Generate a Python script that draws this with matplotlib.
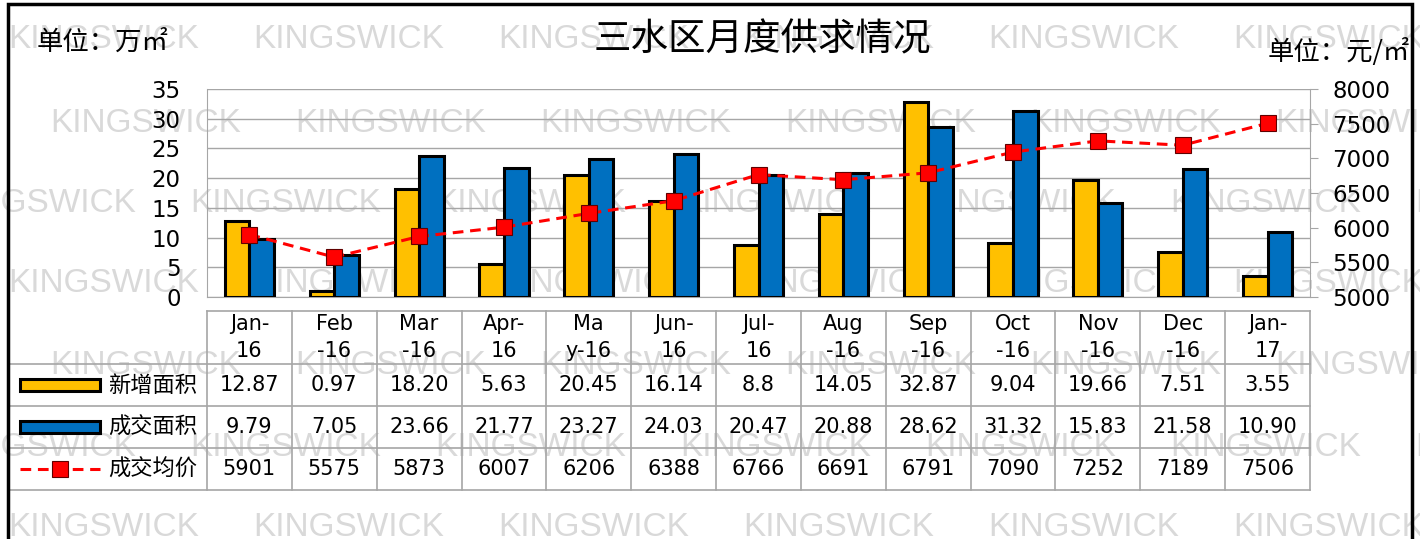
import matplotlib
matplotlib.use('Agg')
import matplotlib.pyplot as plt
import matplotlib.patches as patches
import numpy as np

plt.rcParams['font.family'] = ['DejaVu Sans', 'Noto Sans CJK SC']

# data
months = ['Jan-\n16', 'Feb\n-16', 'Mar\n-16', 'Apr-\n16', 'Ma\ny-16', 'Jun-\n16', 'Jul-\n16',
          'Aug\n-16', 'Sep\n-16', 'Oct\n-16', 'Nov\n-16', 'Dec\n-16', 'Jan-\n17']
new_area = [12.87, 0.97, 18.20, 5.63, 20.45, 16.14, 8.8, 14.05, 32.87, 9.04, 19.66, 7.51, 3.55]
deal_area = [9.79, 7.05, 23.66, 21.77, 23.27, 24.03, 20.47, 20.88, 28.62, 31.32, 15.83, 21.58, 10.90]
avg_price = [5901, 5575, 5873, 6007, 6206, 6388, 6766, 6691, 6791, 7090, 7252, 7189, 7506]
series_names = ['新增面积', '成交面积', '成交均价']

YELLOW = '#FFC000'
BLUE = '#0070C0'
GRID = '#A6A6A6'

W, H = 1420, 539
fig = plt.figure(figsize=(W / 100, H / 100), dpi=100)


def fx(px):
    return px / W


def fy(py):
    return 1 - py / H


# watermark
wm_rows = [(40, 8), (123, 50), (203, -55), (283, 8), (365, 50), (447, -55), (527, 8)]
for y, x0 in wm_rows:
    for k in range(7):
        fig.text(fx(x0 + 245 * k), fy(y), 'KINGSWICK', fontsize=24, color='#D9D9D9',
                 ha='left', va='center', family='Liberation Sans', zorder=-1)

# main chart
ax = fig.add_axes([fx(207), fy(297), fx(1310) - fx(207), (297 - 89) / H])
ax.patch.set_alpha(0)
x = np.arange(len(months))
w = 0.29
ax.bar(x - w / 2, new_area, w, color=YELLOW, edgecolor='black', linewidth=2.2, zorder=3)
ax.bar(x + w / 2, deal_area, w, color=BLUE, edgecolor='black', linewidth=2.2, zorder=3)
ax.set_xlim(-0.5, 12.5)
ax.set_ylim(0, 35)
ax.set_yticks(range(0, 36, 5))
ax.set_xticks([])
ax.yaxis.grid(True, color=GRID, lw=1.0)
ax.set_axisbelow(True)
ax.tick_params(axis='y', length=0, pad=19, labelsize=16.5)
for s in ['top', 'right']:
    ax.spines[s].set_visible(False)
for s in ['left', 'bottom']:
    ax.spines[s].set_color(GRID)

ax2 = ax.twinx()
ax2.plot(x, avg_price, color='red', ls='--', lw=2.2, dashes=(3.5, 2.2),
         marker='s', ms=11, mfc='red', mec='#600000', mew=0.8, zorder=4)
ax2.set_ylim(5000, 8000)
ax2.set_yticks(range(5000, 8001, 500))
ax2.tick_params(axis='y', length=6, color=GRID, pad=10, labelsize=16.5)
for s in ['top', 'left', 'bottom']:
    ax2.spines[s].set_visible(False)
ax2.spines['right'].set_color(GRID)

# titles and units
fig.text(fx(762), fy(40), '三水区月度供求情况', fontsize=27, ha='center', va='center',
         family=['Noto Sans CJK SC'], weight='medium')
fig.text(fx(37), fy(42), '单位：万㎡', fontsize=19, ha='left', va='center',
         family=['Noto Sans CJK SC'])
fig.text(fx(1410), fy(52), '单位：元/㎡', fontsize=19, ha='right', va='center',
         family=['Noto Sans CJK SC'])

# data table
tax = fig.add_axes([fx(207), fy(490), fx(1310) - fx(207), (490 - 311) / H])
tax.set_xlim(-0.5, 12.5)
tax.set_ylim(179, 0)
tax.axis('off')
rows_y = [0, 53, 95, 137, 179]
for k in range(len(months) + 1):
    tax.plot([k - 0.5, k - 0.5], [0, 179], color=GRID, lw=1.2, clip_on=False)
tax.plot([-0.5, 12.5], [0, 0], color=GRID, lw=1.2, clip_on=False)
yt = tax.get_yaxis_transform()
left_edge = (8 - 207) / (1310 - 207)
for ry in rows_y[1:]:
    tax.plot([left_edge, 1], [ry, ry], color=GRID, lw=1.2, clip_on=False, transform=yt)

new_labels = [f'{v:.2f}' for v in new_area]
new_labels[6] = '8.8'
deal_labels = [f'{v:.2f}' for v in deal_area]
price_labels = [str(v) for v in avg_price]
for i, m in enumerate(months):
    tax.text(i, 26.5, m, ha='center', va='center', fontsize=15, linespacing=1.4)
    tax.text(i, 74, new_labels[i], ha='center', va='center', fontsize=15)
    tax.text(i, 116, deal_labels[i], ha='center', va='center', fontsize=15)
    tax.text(i, 158, price_labels[i], ha='center', va='center', fontsize=15)

# legend keys in the table
kx0 = (20 - 207) / 1103
kx1 = (100 - 207) / 1103
for cy, col in [(74, YELLOW), (116, BLUE)]:
    tax.add_patch(patches.Rectangle((kx0, cy - 6), kx1 - kx0, 12, transform=yt,
                                    facecolor=col, edgecolor='black', lw=2.2, clip_on=False))
tax.plot([kx0, kx1], [158, 158], color='red', ls='--', lw=2.2, dashes=(3.5, 2.2),
         transform=yt, clip_on=False)
tax.plot([(kx0 + kx1) / 2], [158], marker='s', ms=11, mfc='red', mec='#600000', mew=0.8,
         transform=yt, clip_on=False)
tx = (108 - 207) / 1103
for cy, name in zip([74, 116, 158], series_names):
    tax.text(tx, cy, name, transform=yt, ha='left', va='center', fontsize=16,
             family=['Noto Sans CJK SC'])

# outer frame
fig.add_artist(patches.Rectangle((fx(8), -0.2), fx(1412) - fx(8), fy(4) + 0.2,
                                 transform=fig.transFigure, fill=False, lw=2.5,
                                 edgecolor='black'))

fig.savefig('out.png', dpi=100)
